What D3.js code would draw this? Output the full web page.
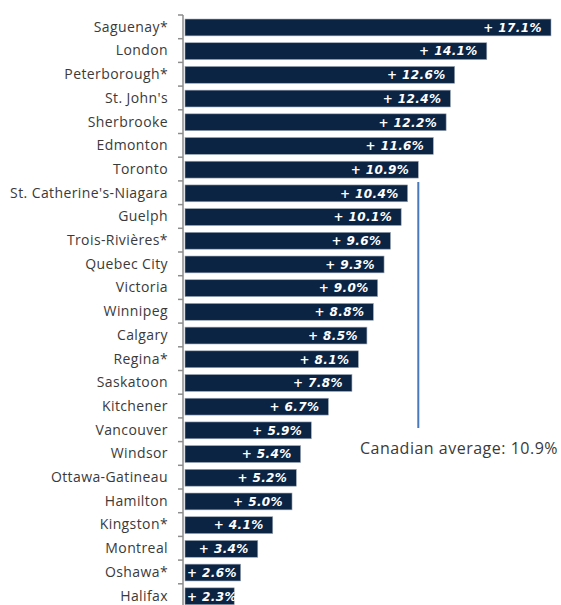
<!DOCTYPE html>
<html>
<head>
<meta charset="utf-8">
<script src="https://cdn.jsdelivr.net/npm/d3@7"></script>
<style>
  body { margin: 0; background: #fff; }
  svg { display: block; }
</style>
</head>
<body>
<div id="chart"></div>
<script>
const cities = [
    'Saguenay*', 'London', 'Peterborough*', "St. John's", 'Sherbrooke', 'Edmonton',
    'Toronto', "St. Catherine's-Niagara", 'Guelph', 'Trois-Rivières*', 'Quebec City',
    'Victoria', 'Winnipeg', 'Calgary', 'Regina*', 'Saskatoon', 'Kitchener', 'Vancouver',
    'Windsor', 'Ottawa-Gatineau', 'Hamilton', 'Kingston*', 'Montreal', 'Oshawa*', 'Halifax'
];
const growth = [
    17.1, 14.1, 12.6, 12.4, 12.2, 11.6, 10.9, 10.4, 10.1, 9.6, 9.3, 9.0, 8.8, 8.5,
    8.1, 7.8, 6.7, 5.9, 5.4, 5.2, 5.0, 4.1, 3.4, 2.6, 2.3
];
const canadianAverage = 10.9;
const averageLabel = 'Canadian average: 10.9%';

const WIDTH = 561, HEIGHT = 605;
const BAR_COLOR = '#0b2444';

const svg = d3.select('#chart').append('svg')
    .attr('width', WIDTH)
    .attr('height', HEIGHT);

const x = d3.scaleLinear().domain([0, 17.1]).range([185, 551]);
const y = d3.scaleBand().domain(cities)
    .range([15, 15 + 23.7 * cities.length])
    .paddingInner(0.29)
    .paddingOuter(0.145);

// category axis on the left, gray line with outer ticks between rows
const axis = svg.append('g').attr('transform', 'translate(183,0)');
axis.append('line')
    .attr('x1', 0).attr('x2', 0)
    .attr('y1', y.range()[0]).attr('y2', y.range()[1])
    .attr('stroke', '#8c8c8c').attr('stroke-width', 1.5);
const step = y.step();
d3.range(cities.length + 1).forEach(i => {
    const ty = y.range()[0] + i * step;
    axis.append('line')
        .attr('x1', -5).attr('x2', 0)
        .attr('y1', ty).attr('y2', ty)
        .attr('stroke', '#8c8c8c').attr('stroke-width', 1.5);
});

svg.append('g').selectAll('text')
    .data(cities)
    .join('text')
    .attr('x', 168)
    .attr('y', d => y(d) + y.bandwidth() / 2)
    .attr('dy', '0.35em')
    .attr('text-anchor', 'end')
    .attr('font-family', '"Open Sans", sans-serif')
    .attr('font-size', 14)
    .attr('letter-spacing', 0.4)
    .attr('fill', '#3a3a3a')
    .text(d => d);

const rows = cities.map((c, i) => ({ city: c, value: growth[i] }));

svg.append('g').selectAll('rect')
    .data(rows)
    .join('rect')
    .attr('x', x(0))
    .attr('y', d => y(d.city) + 0.6)
    .attr('width', d => x(d.value) - x(0))
    .attr('height', y.bandwidth())
    .attr('fill', BAR_COLOR)
    .attr('stroke', '#9aa6b4')
    .attr('stroke-width', 0.6);

const labels = svg.append('g').selectAll('text')
    .data(rows)
    .join('text')
    .attr('y', d => y(d.city) + 0.6 + y.bandwidth() / 2)
    .attr('dy', '0.36em')
    .attr('font-family', '"DejaVu Sans", sans-serif')
    .attr('font-size', 12)
    .attr('font-weight', 'bold')
    .attr('font-style', 'italic')
    .attr('letter-spacing', 0.4)
    .attr('fill', '#fff')
    .text(d => '+ ' + d.value.toFixed(1) + '%');

// right-align inside the bar end, but never start before the bar itself
labels.each(function(d) {
    const w = this.getComputedTextLength();
    const endX = x(d.value) - 9;
    const startX = Math.max(x(0) + 2, endX - w);
    d3.select(this).attr('x', startX);
});

// Canadian average marker
svg.append('line')
    .attr('x1', x(canadianAverage)).attr('x2', x(canadianAverage))
    .attr('y1', 182).attr('y2', 428)
    .attr('stroke', '#4a78bd')
    .attr('stroke-width', 2);

svg.append('text')
    .attr('x', 558)
    .attr('y', 454)
    .attr('text-anchor', 'end')
    .attr('font-family', '"Open Sans", sans-serif')
    .attr('font-size', 16)
    .attr('letter-spacing', 0.5)
    .attr('fill', '#3a3a3a')
    .text(averageLabel);
</script>
</body>
</html>
